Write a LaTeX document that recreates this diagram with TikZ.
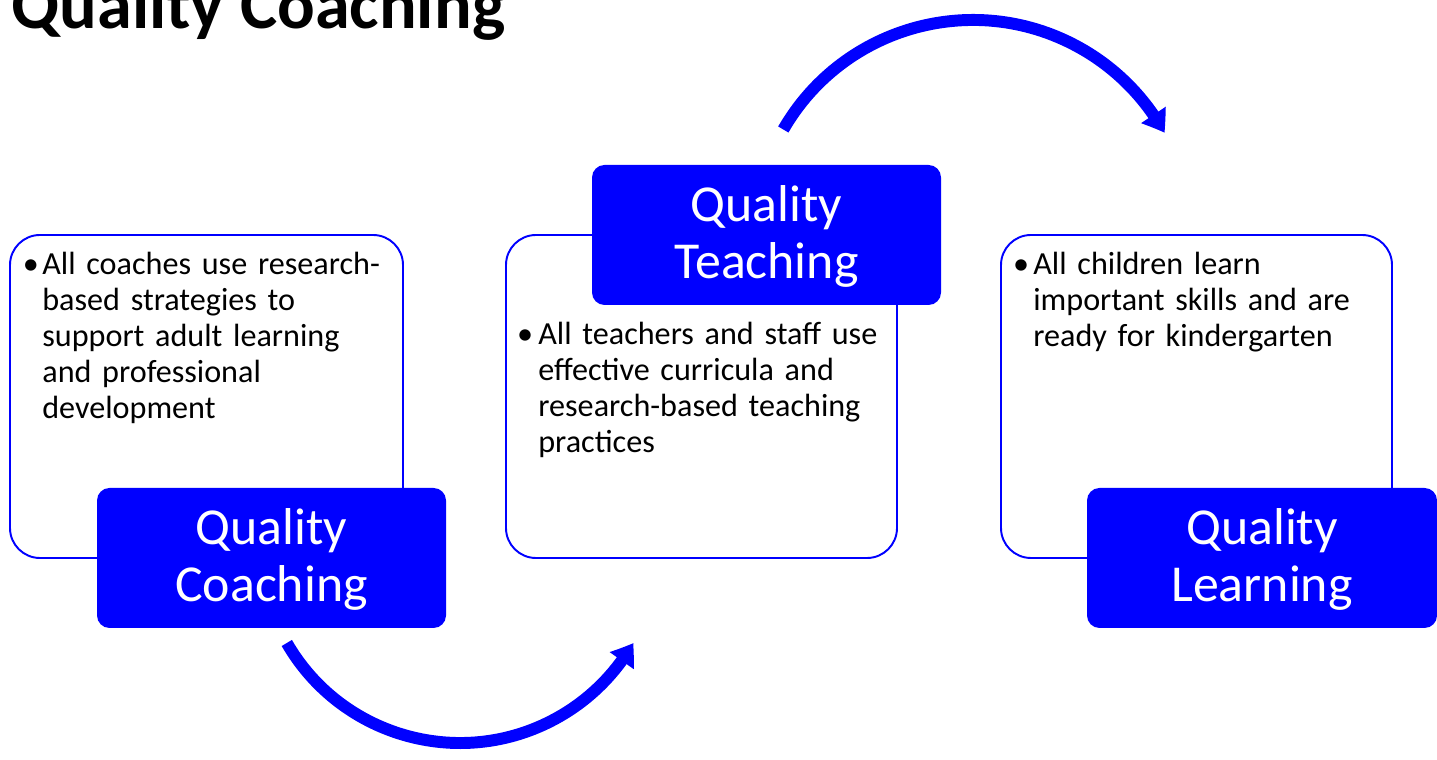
\documentclass[tikz,border=0pt]{standalone}
\usepackage{fontspec}
\setmainfont{Carlito}
\usetikzlibrary{arrows.meta,bending}
\definecolor{qblue}{RGB}{0,0,255}

\begin{document}
\begin{tikzpicture}[x=0.02cm, y=0.02cm,
	panel/.style={draw=qblue, line width=1.1pt, fill=white, rounded corners=0.6cm},
	headbox/.style={fill=qblue, rounded corners=0.25cm},
	headtext/.style={text=white, font=\fontsize{29.5}{32.3}\selectfont, text width=6cm, align=center, anchor=base, inner sep=0pt},
	bodytext/.style={font=\fontsize{18.3}{20.4}\selectfont, text width=8cm, align=left, anchor=base west, inner sep=0pt},
	bulletdot/.style={font=\fontsize{18.3}{20.4}\selectfont, anchor=base, inner sep=0pt},
	turnarrow/.style={draw=qblue, line width=6.8pt, -{Triangle[length=12pt, width=16pt, bend]}}]
			%%%%% START %%%%%
			\useasboundingbox (0, 0) rectangle (1437, 760);
			
			\node[font=\bfseries\fontsize{40}{44}\selectfont, anchor=base west, inner sep=0pt] (title) at (11, 731) {Quality Coaching};
			
			% white panels
			\draw[panel] (10, 202) rectangle (403, 525);
			\draw[panel] (506, 202) rectangle (897, 525);
			\draw[panel] (1001, 202) rectangle (1392, 525);
			
			% blue heading boxes
			\fill[headbox] (97, 132) rectangle (446, 272);
			\fill[headbox] (592, 455) rectangle (941, 595);
			\fill[headbox] (1087, 132) rectangle (1437, 272);
			
			\node[headtext] (coachhead) at (271.5, 215) {Quality\\Coaching};
			\node[headtext] (teachhead) at (766.5, 538) {Quality\\Teaching};
			\node[headtext] (learnhead) at (1262, 215) {Quality\\Learning};
			
			% bullet texts
			\node[bulletdot] (coachdot) at (31, 485) {•};
			\node[bodytext] (coachtxt) at (42, 485) {All coaches use research-\\based strategies to\\support adult learning\\and professional\\development};
			
			\node[bulletdot] (teachdot) at (525, 415) {•};
			\node[bodytext] (teachtxt) at (538, 415) {All teachers and staff use\\effective curricula and\\research-based teaching\\practices};
			
			\node[bulletdot] (learndot) at (1021, 485) {•};
			\node[bodytext] (learntxt) at (1033, 485) {All children learn\\important skills and are\\ready for kindergarten};
			
			% curved arrows between the steps
			\coordinate (coacharc) at (286.8, 117);
			\coordinate (teacharc) at (783.3, 630.5);
			\draw[turnarrow] (coacharc) arc[start angle=210, end angle=330, radius=200];
			\draw[turnarrow] (teacharc) arc[start angle=150, end angle=29, radius=219];
			
			%%%%% END %%%%%
\end{tikzpicture}
\end{document}
